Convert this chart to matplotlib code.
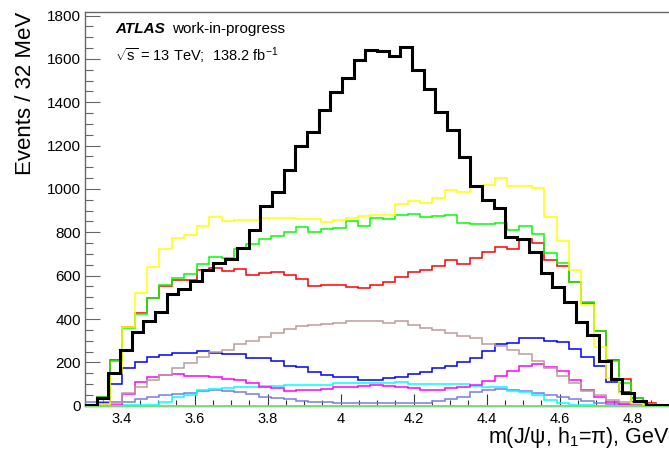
import numpy as np
import matplotlib
matplotlib.use("Agg")
import matplotlib.pyplot as plt
from matplotlib.ticker import MultipleLocator, FuncFormatter

# binning: data histogram 50 x 32 MeV, templates 50 x 34 MeV
edges_data = np.linspace(3.3, 4.9, 51)
edges_tmpl = np.linspace(3.3, 5.0, 51)

data = [3, 34, 150, 258, 341, 391, 432, 517, 537, 575,
        626, 657, 679, 726, 810, 923, 987, 1087, 1198, 1264,
        1364, 1448, 1513, 1595, 1642, 1635, 1613, 1657, 1548, 1461,
        1356, 1272, 1149, 1015, 949, 910, 780, 768, 707, 613,
        546, 477, 385, 326, 208, 122, 57, 21, 5, 2]

yellow = [0, 8, 149, 364, 521, 638, 721, 772, 787, 831,
          869, 851, 857, 855, 866, 866, 868, 860, 860, 846,
          855, 865, 874, 881, 881, 930, 946, 935, 959, 995,
          985, 1015, 1017, 1049, 1012, 1015, 1006, 869, 761, 628,
          463, 269, 126, 57, 12, 3, 0, 0, 0, 0]

green = [0, 42, 205, 358, 424, 496, 555, 591, 609, 654,
         685, 680, 722, 745, 770, 783, 800, 823, 803, 815,
         818, 850, 831, 864, 861, 880, 884, 872, 875, 880,
         841, 837, 837, 845, 810, 829, 793, 706, 659, 572,
         478, 344, 207, 103, 34, 9, 2, 0, 0, 0]

red = [0, 38, 210, 362, 429, 497, 550, 580, 582, 625,
       634, 620, 629, 605, 611, 615, 603, 586, 550, 555,
       559, 549, 542, 558, 570, 595, 618, 624, 643, 673,
       655, 682, 707, 730, 725, 768, 751, 670, 645, 571,
       472, 345, 211, 125, 34, 11, 2, 0, 0, 0]

rosy = [0, 5, 12, 57, 85, 119, 142, 172, 196, 223,
        249, 257, 283, 300, 318, 334, 352, 368, 372, 377,
        383, 391, 391, 391, 380, 391, 372, 357, 349, 334,
        321, 311, 286, 277, 258, 240, 208, 172, 137, 106,
        69, 49, 26, 18, 8, 3, 0, 0, 0, 0]

blue = [0, 12, 100, 172, 200, 223, 234, 245, 242, 254,
        242, 238, 238, 218, 218, 208, 185, 177, 154, 142,
        134, 134, 119, 119, 126, 134, 146, 157, 172, 185,
        203, 218, 254, 285, 288, 311, 314, 298, 292, 262,
        226, 183, 111, 65, 18, 5, 1, 0, 0, 0]

magenta = [0, 3, 5, 52, 111, 134, 142, 146, 137, 138,
           134, 122, 119, 103, 85, 80, 69, 72, 72, 77,
           85, 88, 92, 97, 91, 85, 80, 72, 72, 80,
           85, 95, 114, 137, 161, 183, 194, 180, 161, 119,
           72, 42, 18, 8, 3, 0, 0, 0, 0, 0]

cyan = [0, 0, 0, 1, 3, 5, 18, 39, 49, 72,
        76, 80, 85, 85, 91, 91, 95, 95, 95, 95,
        103, 103, 103, 103, 103, 111, 100, 100, 100, 100,
        100, 91, 85, 85, 69, 65, 49, 26, 11, 3,
        1, 0, 0, 0, 0, 0, 0, 0, 0, 0]

slate = [15, 18, 18, 16, 29, 38, 50, 55, 60, 67,
         72, 68, 62, 52, 42, 34, 31, 23, 18, 15,
         14, 14, 14, 14, 14, 14, 14, 14, 20, 29,
         42, 62, 72, 76, 73, 67, 60, 50, 40, 32,
         22, 14, 8, 4, 2, 0, 0, 0, 0, 0]

lightgreen = [0] * 50

plt.rcParams['font.family'] = ['Liberation Sans', 'DejaVu Sans']
plt.rcParams['mathtext.fontset'] = 'custom'
plt.rcParams['mathtext.rm'] = 'Liberation Sans'
plt.rcParams['mathtext.it'] = 'Liberation Sans:italic'
plt.rcParams['mathtext.bf'] = 'Liberation Sans:bold'

W, H = 669, 453
fig = plt.figure(figsize=(W / 100, H / 100), dpi=100)
ax = fig.add_axes([85 / W, 1 - 405.7 / H, 584 / W, (405.7 - 12.3) / H])

templates = [
    (slate, '#7b7be6'),
    (cyan, '#00ffff'),
    (magenta, '#ff00ff'),
    (blue, '#0000ff'),
    (rosy, '#bc9c9c'),
    (red, '#ff0000'),
    (green, '#00ff00'),
    (yellow, '#ffff00'),
]
for i, (vals, col) in enumerate(templates):
    ax.stairs(vals, edges_tmpl, color=col, lw=1.1, zorder=3 + i * 0.1)
ax.stairs(lightgreen, edges_tmpl, color='#7ddc7d', lw=1.4, zorder=4, clip_on=False)
ax.stairs(data, edges_data, color='black', lw=2.2, zorder=5)

ax.set_xlim(3.3, 4.9)
ax.set_ylim(0, 1815)

ax.xaxis.set_major_locator(MultipleLocator(0.2))
ax.xaxis.set_minor_locator(MultipleLocator(0.05))
ax.yaxis.set_major_locator(MultipleLocator(200))
ax.yaxis.set_minor_locator(MultipleLocator(50))
ax.xaxis.set_major_formatter(FuncFormatter(lambda v, p: f"{v:g}"))

ax.tick_params(axis='x', which='major', direction='in', length=8.4, width=0.8,
               color='#333333', labelsize=10.5, pad=4.5)
ax.tick_params(axis='x', which='minor', direction='in', length=4.1, width=0.8,
               color='#333333')
ax.tick_params(axis='y', which='major', direction='in', length=10.8, width=0.8,
               color='#666666', labelsize=11, pad=3)
ax.tick_params(axis='y', which='minor', direction='in', length=5.5, width=0.8,
               color='#666666')
ax.tick_params(top=False, right=False)

for side in ('top', 'left', 'bottom'):
    ax.spines[side].set_color('#666666')
    ax.spines[side].set_linewidth(1.0)
ax.spines['right'].set_visible(False)

fig.text(25.5 / W, 1 - 12 / H, 'Events / 32 MeV', rotation=90,
         ha='center', va='top', fontsize=16)
fig.text(670 / W, 1 - 443 / H, r'm(J/ψ, h$_{1}$=π), GeV',
         ha='right', va='baseline', fontsize=15.5)

fig.text(115 / W, 1 - 33.3 / H, 'ATLAS', fontsize=11, fontweight='bold',
         fontstyle='italic', va='baseline')
fig.text(171.7 / W, 1 - 33.3 / H, 'work-in-progress', fontsize=11, va='baseline')
fig.text(115 / W, 1 - 61.5 / H, r'$\sqrt{\mathrm{s}}$ = 13 TeV;  138.2 fb$^{-1}$',
         fontsize=10.5, va='baseline')

fig.savefig('out.png', dpi=100)
